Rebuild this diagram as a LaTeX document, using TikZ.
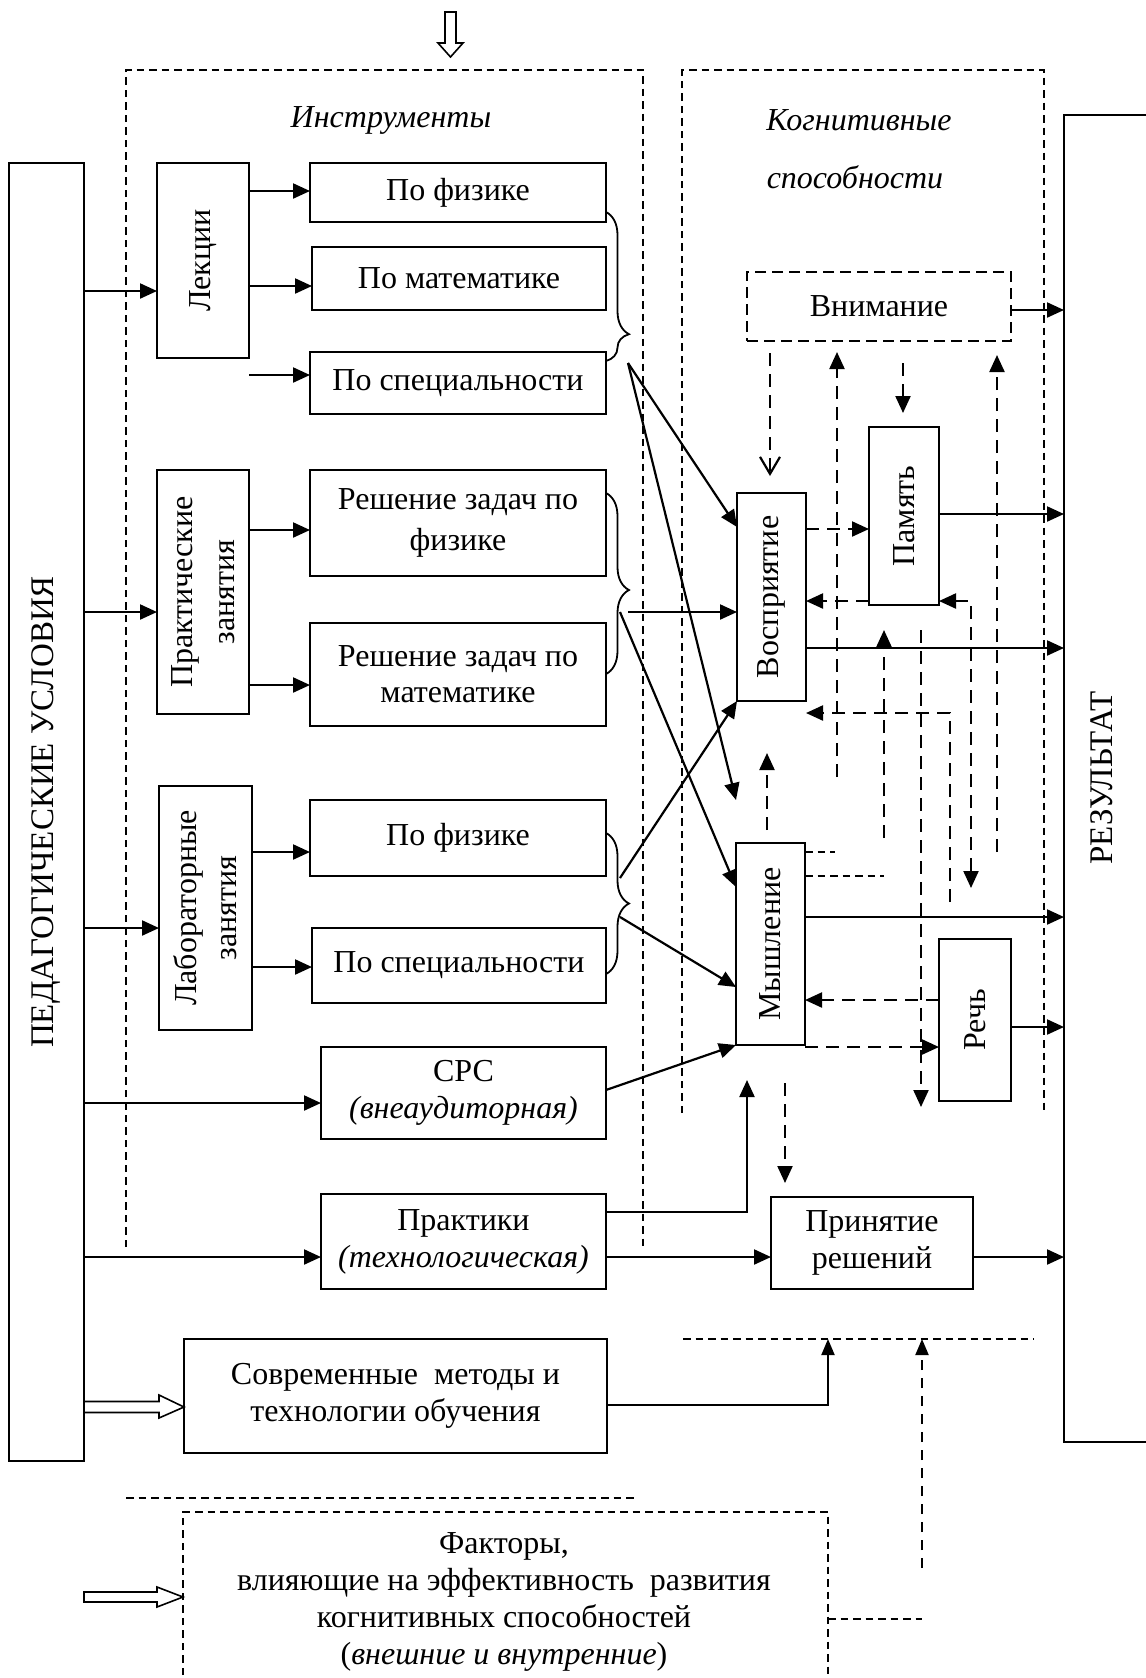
\documentclass[tikz,border=0pt]{standalone}
\usepackage{fontspec}
\setmainfont{Liberation Serif}
\usepackage{graphicx}
\usetikzlibrary{arrows.meta,decorations.pathreplacing,calc}
\tikzset{
  box/.style={draw, line width=1.1pt, inner sep=0pt, outer sep=0pt, align=center},
  tip/.style={},
  arr/.style={line width=1.1pt, -{Triangle[length=8.5pt,width=7.5pt]}},
  dsh/.style={line width=1.1pt, dash pattern=on 6.5pt off 4pt},
  darr/.style={dsh, -{Triangle[length=8.5pt,width=7.5pt]}},
  thindsh/.style={line width=0.8pt, dash pattern=on 3.75pt off 2.5pt},
  hollow/.style={line width=0.8pt},
  brc/.style={line width=0.9pt, decorate},
  rot/.style={rotate=90, align=center, inner sep=0pt},
}
\begin{document}
\fontsize{16}{18.5}\selectfont
\begin{tikzpicture}[x=0.5pt,y=-0.5pt]
\useasboundingbox (0,0) rectangle (1146,1678);

% top hollow arrow
\draw[hollow] (445,12) -- (456,12) -- (456,43) -- (463,43) -- (450.5,57) -- (438,43) -- (445,43) -- cycle;

% dashed frames (open at the bottom)
\draw[thindsh] (126,1247) -- (126,70) -- (643,70) -- (643,1247);
\draw[thindsh] (682,1113) -- (682,70) -- (1044,70) -- (1044,1113);
\node[font=\itshape] (instr) at (391,120) {Инструменты};
\node[font=\itshape] (kog1) at (859,120) {Когнитивные};
\node[font=\itshape] (kog2) at (855,177) {способности};

% big side boxes
\node[box, minimum width=37.5pt, minimum height=649pt] (ped) at (46.5,812) {};
\node[rot, font=\fontsize{16.5}{20}\selectfont] (pedtext) at (ped) {ПЕДАГОГИЧЕСКИЕ УСЛОВИЯ};
\node[box, minimum width=48pt, minimum height=663.5pt] (res) at (1112,778.5) {};
\node[rot, font=\fontsize{16.5}{20}\selectfont] (restext) at (1102,778) {РЕЗУЛЬТАТ};

% instruments
\node[box, minimum width=46pt, minimum height=97.5pt] (lec) at (203,260.5) {};
\node[rot] (lectext) at (lec) {Лекции};
\node[box, minimum width=148pt, minimum height=29.5pt] (lf) at (458,192.5) {По физике};
\node[box, minimum width=147pt, minimum height=31.5pt] (lm) at (459,278.5) {По математике};
\node[box, minimum width=148pt, minimum height=31pt] (ls) at (458,383) {По специальности};

\node[box, minimum width=46pt, minimum height=122pt] (prac) at (203,592) {};
\node[rot, font=\fontsize{16}{21}\selectfont] (practext) at (prac) {Практические\\занятия};
\node[box, minimum width=148pt, minimum height=53pt, font=\fontsize{16}{20.5}\selectfont] (pf) at (458,523) {Решение задач по\\физике};
\node[box, minimum width=148pt, minimum height=51.5pt, font=\fontsize{16}{18}\selectfont] (pm) at (458,674.5) {Решение задач по\\математике};

\node[box, minimum width=46.5pt, minimum height=122pt] (lab) at (205.5,908) {};
\node[rot, font=\fontsize{16}{20}\selectfont] (labtext) at (lab) {Лабораторные\\занятия};
\node[box, minimum width=148pt, minimum height=38pt] (labf) at (458,838) {По физике};
\node[box, minimum width=147pt, minimum height=37.5pt] (labs) at (459,965.5) {По специальности};

\node[box, minimum width=142.5pt, minimum height=46pt] (srs) at (463.5,1093) {СРС\\\textit{(внеаудиторная)}};
\node[box, minimum width=142.5pt, minimum height=47.5pt] (prk) at (463.5,1241.5) {Практики\\\textit{(технологическая)}};
\node[box, minimum width=211.5pt, minimum height=57pt] (sovr) at (395.5,1396) {Современные\ \ методы и\\технологии обучения};

% cognitive
\node[box, dash pattern=on 5.5pt off 3pt, line width=1pt, minimum width=132pt, minimum height=34.5pt] (vnim) at (879,306.5) {Внимание};
\node[box, minimum width=34.5pt, minimum height=104pt] (vos) at (771.5,597) {};
\node[rot] (vostext) at (vos) {Восприятие};
\node[box, minimum width=35pt, minimum height=89pt] (pam) at (904,516) {};
\node[rot] (pamtext) at (pam) {Память};
\node[box, minimum width=34.5pt, minimum height=101pt] (mysh) at (770.5,944) {};
\node[rot] (myshtext) at (mysh) {Мышление};
\node[box, minimum width=36pt, minimum height=81pt] (rech) at (975,1020) {};
\node[rot] (rechtext) at (rech) {Речь};
\node[box, minimum width=101pt, minimum height=46pt] (prin) at (872,1243) {Принятие\\решений};

% factors (open at the bottom)
\node[box, draw=none, minimum width=322.5pt, minimum height=94pt] (fakt) at (505.5,1606) {};
\draw[thindsh] (fakt.south west) -- (fakt.north west) -- (fakt.north east) -- (fakt.south east);
\node[align=center] (fakttext) at (504,1601.5) {Факторы,\\влияющие на эффективность\ \ развития\\когнитивных способностей\\(\textit{внешние и внутренние})};

% arrows from pedagogical conditions
\draw[arr] (ped.east |- 0,291) -- (lec.west |- 0,291);
\draw[arr] (lec.east |- 0,191) -- (lf.west |- 0,191);
\draw[arr] (lec.east |- 0,286) -- (lm.west |- 0,286);
\draw[arr] (lec.east |- 0,375) -- (ls.west |- 0,375);
\draw[arr] (ped.east |- 0,612) -- (prac.west |- 0,612);
\draw[arr] (prac.east |- 0,530) -- (pf.west |- 0,530);
\draw[arr] (prac.east |- 0,685) -- (pm.west |- 0,685);
\draw[arr] (ped.east |- 0,928) -- (lab.west |- 0,928);
\draw[arr] (lab.east |- 0,852) -- (labf.west |- 0,852);
\draw[arr] (lab.east |- 0,967) -- (labs.west |- 0,967);
\draw[arr] (ped.east |- 0,1103) -- (srs.west |- 0,1103);
\draw[arr] (ped.east |- 0,1257) -- (prk.west |- 0,1257);

% braces
\draw[brc, decoration={brace, amplitude=11.5pt, aspect=0.82}] (lf.east |- 0,212) -- (ls.east |- 0,361);
\draw[brc, decoration={brace, amplitude=11.5pt, aspect=0.536}] (pf.east |- 0,493) -- (pm.east |- 0,674);
\draw[brc, decoration={brace, amplitude=11.5pt, aspect=0.5}] (labf.east |- 0,833) -- (labs.east |- 0,974);

\coordinate (b1) at (628,363);
\coordinate (b2) at (628,612);
\coordinate (b2a) at (620,612);
\coordinate (b3a) at (620,878);
\coordinate (b3b) at (620,917);

\draw[arr] (b1) -- (vos.west |- 0,527);
\draw[arr] (b1) -- (mysh.west |- 0,800);
\draw[arr] (b2) -- (vos.west |- 0,612);
\draw[arr] (b2a) -- (mysh.west |- 0,887);
\draw[arr] (b3a) -- (vos.south west);
\draw[arr] (b3b) -- (mysh.west |- 0,987);
\draw[arr] (srs.east |- 0,1090) -- (mysh.south west);

% to result
\draw[arr] (vnim.east |- 0,310) -- (res.west |- 0,310);
\draw[arr] (pam.east |- 0,514) -- (res.west |- 0,514);
\draw[arr] (vos.east |- 0,648) -- (res.west |- 0,648);
\draw[arr] (mysh.east |- 0,917) -- (res.west |- 0,917);
\draw[arr] (rech.east |- 0,1027) -- (res.west |- 0,1027);
\draw[arr] (prin.east |- 0,1257) -- (res.west |- 0,1257);
\draw[arr] (prk.east |- 0,1257) -- (prin.west |- 0,1257);
\coordinate (up1) at (747,1080);
\draw[arr] (prk.east |- 0,1212) -| (up1);

% dashed links between cognitive abilities
\coordinate (v1s) at (770,353);
\coordinate (v1e) at (770,476);
\draw[dsh, -{Straight Barb[length=8.5pt,width=10pt]}] (v1s) -- (v1e);
\coordinate (v2s) at (837,777);
\coordinate (v2e) at (837,352);
\draw[darr] (v2s) -- (v2e);
\coordinate (v3s) at (903,363);
\coordinate (v3e) at (903,413);
\draw[darr] (v3s) -- (v3e);
\coordinate (v4s) at (997,852);
\coordinate (v4e) at (997,355);
\draw[darr] (v4s) -- (v4e);
\draw[darr] (vos.east |- 0,529) -- (pam.west |- 0,529);
\draw[darr] (pam.west |- 0,601) -- (vos.east |- 0,601);
\coordinate (g1) at (971,601);
\coordinate (g2) at (971,888);
\draw[dsh, {Triangle[length=8.5pt,width=7.5pt]}-{Triangle[length=8.5pt,width=7.5pt]}] (pam.east |- 0,601) -- (g1) -- (g2);
\coordinate (h1) at (884,838);
\coordinate (h2) at (884,630);
\draw[darr] (h1) -- (h2);
\coordinate (i1) at (921,630);
\coordinate (i2) at (921,1107);
\draw[darr] (i1) -- (i2);
\coordinate (j1) at (950,902);
\coordinate (j2) at (950,713);
\draw[darr] (j1) -- (j2) -- (vos.east |- 0,713);
\coordinate (k1) at (767,830);
\coordinate (k2) at (767,753);
\draw[darr] (k1) -- (k2);
\coordinate (l1) at (835,852);
\coordinate (l2) at (884,876);
\draw[thindsh] (mysh.east |- 0,852) -- (l1);
\draw[thindsh] (mysh.east |- 0,876) -- (l2);
\draw[darr] (rech.west |- 0,1000) -- (mysh.east |- 0,1000);
\draw[darr] (mysh.east |- 0,1047) -- (rech.west |- 0,1047);
\coordinate (n1) at (785,1083);
\coordinate (n2) at (785,1183);
\draw[darr] (n1) -- (n2);

% bottom part
\coordinate (o1) at (683,1339);
\coordinate (o2) at (1034,1339);
\draw[thindsh] (o1) -- (o2);
\coordinate (p1) at (828,1339);
\draw[line width=1pt, -{Triangle[length=8pt,width=6.5pt]}] (sovr.east |- 0,1405) -| (p1);
\coordinate (q1) at (922,1568);
\coordinate (q2) at (922,1339);
\draw[line width=1pt, dash pattern=on 5pt off 4pt, -{Triangle[length=8pt,width=6.5pt]}] (q1) -- (q2);
\coordinate (r1) at (922,1619);
\draw[thindsh] (fakt.east |- 0,1619) -- (r1);
\coordinate (s1) at (126,1498);
\coordinate (s2) at (637,1498);
\draw[thindsh] (s1) -- (s2);

% hollow arrows
\draw[hollow] (ped.east |- 0,1401.5) -- (159,1401.5) -- (159,1395) -- (sovr.west |- 0,1407) -- (159,1418) -- (159,1412.5) -- (ped.east |- 0,1412.5);
\draw[hollow] (84,1592) -- (157,1592) -- (157,1587) -- (fakt.west |- 0,1597) -- (157,1607) -- (157,1602) -- (84,1602) -- cycle;
\end{tikzpicture}
\end{document}
